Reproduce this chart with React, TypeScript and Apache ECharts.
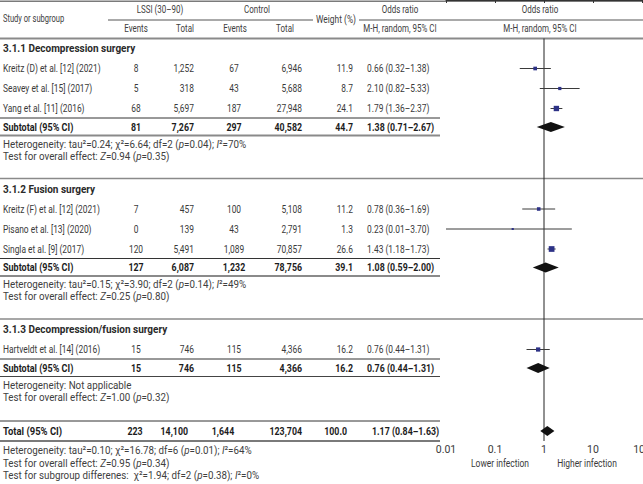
import React, { useEffect, useRef } from 'react';
import * as echarts from 'echarts';

// ---------- data ----------
const sectionTitles = ['3.1.1 Decompression surgery', '3.1.2 Fusion surgery', '3.1.3 Decompression/fusion surgery'];

const studyNames = [
  'Kreitz (D) et al. [12] (2021)',
  'Seavey et al. [15] (2017)',
  'Yang et al. [11] (2016)',
  'Kreitz (F) et al. [12] (2021)',
  'Pisano et al. [13] (2020)',
  'Singla et al. [9] (2017)',
  'Hartveldt et al. [14] (2016)',
];
const studyGroup = [0, 0, 0, 1, 1, 1, 2];
const lssiEvents = [8, 5, 68, 7, 0, 120, 15];
const lssiTotal = [1252, 318, 5697, 457, 139, 5491, 746];
const ctrlEvents = [67, 43, 187, 100, 43, 1089, 115];
const ctrlTotal = [6946, 5688, 27948, 5108, 2791, 70857, 4366];
const studyWeight = [11.9, 8.7, 24.1, 11.2, 1.3, 26.6, 16.2];
const studyOR = [0.66, 2.1, 1.79, 0.78, 0.23, 1.43, 0.76];
const studyLo = [0.32, 0.82, 1.36, 0.36, 0.01, 1.18, 0.44];
const studyHi = [1.38, 5.33, 2.37, 1.69, 3.7, 1.73, 1.31];

const subEvents = [81, 127, 15];
const subTotal = [7267, 6087, 746];
const subCtrlEvents = [297, 1232, 115];
const subCtrlTotal = [40582, 78756, 4366];
const subWeight = [44.7, 39.1, 16.2];
const subOR = [1.38, 1.08, 0.76];
const subLo = [0.71, 0.59, 0.44];
const subHi = [2.67, 2.0, 1.31];

const hetTau2 = [0.24, 0.15, null];
const hetChi2 = [6.64, 3.9, null];
const hetDf = [2, 2, null];
const hetP = [0.04, 0.14, null];
const hetI2 = [70, 49, null];
const overallZ = [0.94, 0.25, 1.0];
const overallP = [0.35, 0.8, 0.32];

const totalEvents = 223;
const totalN = 14100;
const totalCtrlEvents = 1644;
const totalCtrlN = 123704;
const totalWeight = 100.0;
const totalOR = 1.17;
const totalLo = 0.84;
const totalHi = 1.63;
const totalHet = { tau2: 0.1, chi2: 16.78, df: 6, p: 0.01, i2: 64 };
const totalOverall = { z: 0.95, p: 0.34 };
const subgroupDiff = { chi2: 1.94, df: 2, p: 0.38, i2: 0 };

const xTickLabels = ['0.01', '0.1', '1', '10', '100'];

// ---------- styling / layout ----------
const FONT = 'Roboto';
const SX = 0.8;
const FS = 10.5;
const REG = '#3a3a3a';
const DARK = '#1c1c1c';
const COL = { study: 3, lssiEv: 136, lssiTot: 194, ctrlEv: 234, ctrlTot: 302, weight: 353, or: 367 };
const TCOL = { lssiEv: 135, lssiTot: 188, ctrlEv: 223, ctrlTot: 302, weight: 347, or: 372 };
const TABLE_RIGHT = 440;
const W = 643;
const H = 484;
const AXIS_Y = 441;
const NOTE = { size: 11, sx: 0.89 };

const fmtN = (n: number) => n.toLocaleString('en-US');
const fmtCI = (o: number, l: number, h: number) => `${o.toFixed(2)} (${l.toFixed(2)}–${h.toFixed(2)})`;

const italicRich = (color: string, size: number) => ({
  i: { fontStyle: 'italic', fontSize: size, fontFamily: FONT, fill: color, textFill: color },
});

function txt(x: number, y: number, text: string, o: any = {}) {
  const color = o.color ?? REG;
  const align = o.align ?? 'left';
  return {
    type: 'text',
    x,
    y,
    scaleX: o.sx ?? SX,
    silent: true,
    style: {
      text,
      fill: color,
      fontSize: o.size ?? FS,
      fontWeight: o.weight ?? 'normal',
      fontFamily: FONT,
      textAlign: align,
      textVerticalAlign: 'middle',
      rich: o.rich,
    },
  };
}

function note(y: number, text: string) {
  return txt(COL.study, y, text, { size: NOTE.size, sx: NOTE.sx, color: '#404040', rich: italicRich('#404040', NOTE.size) });
}

function hline(x1: number, x2: number, y: number, color: string, w: number) {
  return { type: 'line', silent: true, shape: { x1, y1: y, x2, y2: y }, style: { stroke: color, lineWidth: w } };
}

function hetText(t: number, c: number, d: number, p: number, i: number) {
  return `Heterogeneity: tau²=${t.toFixed(2)}; χ²=${c.toFixed(2)}; df=${d} ({i|p}=${p.toFixed(2)}); {i|I}²=${i}%`;
}

function buildOption() {
  const g: any[] = [];
  const hd = { size: 10.5, sx: 0.76, color: '#404040' };
  // header
  g.push(hline(0, W, 1.2, '#7a7a7a', 1.5));
  g.push(hline(108, 313, 20, '#555', 1));
  g.push(hline(359, W, 20, '#555', 1));
  g.push(hline(0, W, 38.5, '#8a8a8a', 2));
  g.push(txt(COL.study, 19, 'Study or subgroup', { ...hd, sx: 0.72 }));
  g.push(txt(160, 9, 'LSSI (30–90)', { ...hd, align: 'center' }));
  g.push(txt(257, 9, 'Control', { ...hd, align: 'center' }));
  g.push(txt(136, 28.5, 'Events', { ...hd, align: 'center' }));
  g.push(txt(185, 28.5, 'Total', { ...hd, align: 'center' }));
  g.push(txt(235, 28.5, 'Events', { ...hd, align: 'center' }));
  g.push(txt(285, 28.5, 'Total', { ...hd, align: 'center' }));
  g.push(txt(336, 19, 'Weight (%)', { ...hd, align: 'center', sx: 0.8 }));
  g.push(txt(400, 9, 'Odds ratio', { ...hd, align: 'center' }));
  g.push(txt(400, 28.5, 'M-H, random, 95% CI', { ...hd, align: 'center' }));
  g.push(txt(540, 9, 'Odds ratio', { ...hd, align: 'center' }));
  g.push(txt(540, 28.5, 'M-H, random, 95% CI', { ...hd, align: 'center' }));

  const studyData: any[] = [];
  const diamondData: any[] = [];

  let start = 48.5;
  let totalY = 0;
  sectionTitles.forEach((title, s) => {
    g.push(txt(COL.study, start, title, { weight: 'bold', size: 11.5, sx: 0.87, color: '#2a2a2a' }));
    const idx = studyGroup.map((gr, i) => (gr === s ? i : -1)).filter((i) => i >= 0);
    let y = start;
    idx.forEach((i, k) => {
      y = start + 20 + k * 20;
      g.push(txt(COL.study, y, studyNames[i]));
      g.push(txt(COL.lssiEv, y, String(lssiEvents[i]), { align: 'center' }));
      g.push(txt(COL.lssiTot, y, fmtN(lssiTotal[i]), { align: 'right' }));
      g.push(txt(COL.ctrlEv, y, fmtN(ctrlEvents[i]), { align: 'center' }));
      g.push(txt(COL.ctrlTot, y, fmtN(ctrlTotal[i]), { align: 'right' }));
      g.push(txt(COL.weight, y, studyWeight[i].toFixed(1), { align: 'right' }));
      g.push(txt(COL.or, y, fmtCI(studyOR[i], studyLo[i], studyHi[i])));
      studyData.push([studyOR[i], studyLo[i], studyHi[i], y, studyWeight[i]]);
    });
    const last = y;
    g.push(hline(0, TABLE_RIGHT, last + 9.5, '#333', 1));
    const sy = last + 18.5;
    const b = { weight: 'bold', color: DARK, sx: 0.84 };
    g.push(txt(COL.study, sy, 'Subtotal (95% CI)', { ...b, sx: 0.86 }));
    g.push(txt(COL.lssiEv, sy, String(subEvents[s]), { ...b, align: 'center' }));
    g.push(txt(COL.lssiTot, sy, fmtN(subTotal[s]), { ...b, align: 'right' }));
    g.push(txt(COL.ctrlEv, sy, fmtN(subCtrlEvents[s]), { ...b, align: 'center' }));
    g.push(txt(COL.ctrlTot, sy, fmtN(subCtrlTotal[s]), { ...b, align: 'right' }));
    g.push(txt(COL.weight, sy, subWeight[s].toFixed(1), { ...b, align: 'right' }));
    g.push(txt(COL.or, sy, fmtCI(subOR[s], subLo[s], subHi[s]), b));
    diamondData.push([subOR[s], subLo[s], subHi[s], sy]);
    g.push(hline(0, TABLE_RIGHT, last + 27, s === 2 ? '#444' : '#8a8a8a', s === 2 ? 1.2 : 2));
    const hy = last + 35.5;
    const ty = hy + 12;
    const t2 = hetTau2[s];
    g.push(
      note(
        hy,
        t2 === null
          ? 'Heterogeneity: Not applicable'
          : hetText(t2, hetChi2[s] as number, hetDf[s] as number, hetP[s] as number, hetI2[s] as number)
      )
    );
    g.push(note(ty, `Test for overall effect: {i|Z}=${overallZ[s].toFixed(2)} ({i|p}=${overallP[s].toFixed(2)})`));
    if (s < sectionTitles.length - 1) {
      const sep = ty + 22.5;
      g.push(hline(0, W, sep, '#8a8a8a', 1.5));
      start = sep + 10.5;
    } else {
      g.push(hline(0, TABLE_RIGHT, ty + 24, '#333', 1));
      totalY = ty + 34;
    }
  });

  // total row
  const b = { weight: 'bold', color: DARK, sx: 0.84 };
  g.push(txt(COL.study, totalY, 'Total (95% CI)', { ...b, sx: 0.9 }));
  g.push(txt(TCOL.lssiEv, totalY, String(totalEvents), { ...b, align: 'center' }));
  g.push(txt(TCOL.lssiTot, totalY, fmtN(totalN), { ...b, align: 'right' }));
  g.push(txt(TCOL.ctrlEv, totalY, fmtN(totalCtrlEvents), { ...b, align: 'center' }));
  g.push(txt(TCOL.ctrlTot, totalY, fmtN(totalCtrlN), { ...b, align: 'right' }));
  g.push(txt(TCOL.weight, totalY, totalWeight.toFixed(1), { ...b, align: 'right' }));
  g.push(txt(TCOL.or, totalY, fmtCI(totalOR, totalLo, totalHi), b));
  diamondData.push([totalOR, totalLo, totalHi, totalY]);
  g.push(hline(0, TABLE_RIGHT, AXIS_Y, '#7a7a7a', 2));

  const ny = AXIS_Y + 9.5;
  g.push(note(ny, hetText(totalHet.tau2, totalHet.chi2, totalHet.df, totalHet.p, totalHet.i2)));
  g.push(note(ny + 12.5, `Test for overall effect: {i|Z}=${totalOverall.z.toFixed(2)} ({i|p}=${totalOverall.p.toFixed(2)})`));
  g.push(
    note(
      ny + 25,
      `Test for subgroup differenes:  χ²=${subgroupDiff.chi2.toFixed(2)}; df=${subgroupDiff.df} ({i|p}=${subgroupDiff.p.toFixed(2)}); {i|I}²=${subgroupDiff.i2}%`
    )
  );
  g.push(txt(500, 463, 'Lower infection', { align: 'center', size: 11, sx: 0.77 }));
  g.push(txt(587, 463, 'Higher infection', { align: 'center', size: 11, sx: 0.77 }));

  return {
    animation: false,
    backgroundColor: '#ffffff',
    grid: { left: 446, top: 0, width: 196, height: AXIS_Y, outerBoundsMode: 'none', containLabel: false },
    xAxis: {
      type: 'log',
      logBase: 10,
      min: 0.01,
      max: 100,
      splitNumber: 4,
      axisLine: { show: true, lineStyle: { color: '#333', width: 1 } },
      axisTick: { show: true, length: 3, lineStyle: { color: '#333' } },
      minorTick: { show: false },
      splitLine: { show: false },
      axisLabel: {
        margin: 3,
        fontSize: 10.5,
        fontFamily: FONT,
        color: REG,
        hideOverlap: false,
        formatter: (_v: number, i: number) => xTickLabels[i] ?? '',
      },
    },
    yAxis: {
      type: 'value',
      min: 0,
      max: AXIS_Y,
      inverse: true,
      show: false,
      splitLine: { show: false },
    },
    graphic: { elements: g },
    series: [
      {
        type: 'line',
        data: [
          [1, 38.5],
          [1, AXIS_Y],
        ],
        symbol: 'none',
        silent: true,
        lineStyle: { color: '#222', width: 1 },
        z: 1,
      },
      {
        type: 'custom',
        coordinateSystem: 'cartesian2d',
        data: studyData,
        encode: { x: [0, 1, 2], y: 3 },
        silent: true,
        z: 3,
        renderItem: (_p: any, api: any) => {
          const y = api.value(3);
          const c = api.coord([api.value(0), y]);
          const l = api.coord([api.value(1), y]);
          const h = api.coord([api.value(2), y]);
          const s = 2 + api.value(4) * 0.14;
          return {
            type: 'group',
            children: [
              { type: 'line', shape: { x1: l[0], y1: c[1], x2: h[0], y2: c[1] }, style: { stroke: '#3a3a3a', lineWidth: 1 } },
              { type: 'rect', shape: { x: c[0] - s / 2, y: c[1] - s / 2, width: s, height: s }, style: { fill: '#2d3286' } },
            ],
          };
        },
      },
      {
        type: 'custom',
        coordinateSystem: 'cartesian2d',
        data: diamondData,
        encode: { x: [0, 1, 2], y: 3 },
        silent: true,
        z: 3,
        renderItem: (_p: any, api: any) => {
          const y = api.value(3);
          const c = api.coord([api.value(0), y]);
          const l = api.coord([api.value(1), y]);
          const h = api.coord([api.value(2), y]);
          const hh = 5;
          return {
            type: 'polygon',
            shape: {
              points: [
                [l[0], c[1]],
                [c[0], c[1] - hh],
                [h[0], c[1]],
                [c[0], c[1] + hh],
              ],
            },
            style: { fill: '#111' },
          };
        },
      },
    ],
  };
}

export default function App() {
  const ref = useRef<HTMLDivElement>(null);
  useEffect(() => {
    const chart = echarts.init(ref.current as HTMLDivElement, null, { renderer: 'svg' });
    chart.setOption(buildOption() as any);
    return () => chart.dispose();
  }, []);
  return (
    <div
      ref={ref}
      style={{ position: 'fixed', left: 0, top: 0, width: W, height: H, background: '#fff' }}
    />
  );
}
